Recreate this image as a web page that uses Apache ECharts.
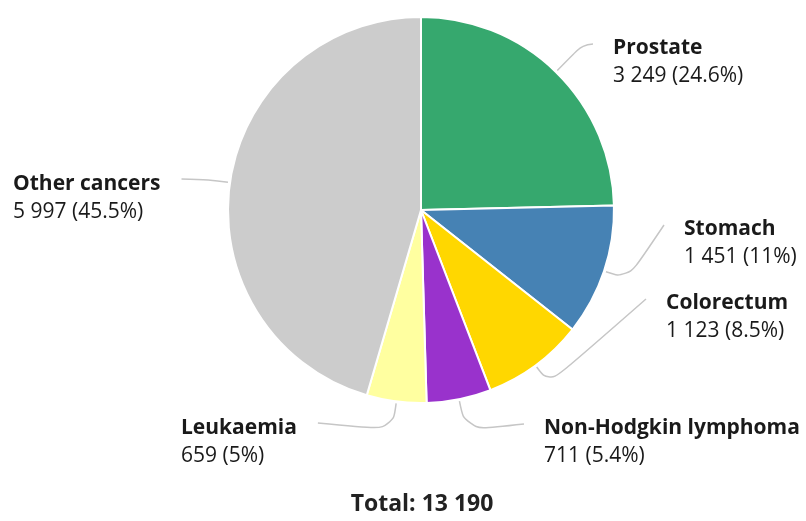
<!DOCTYPE html>
<html>
<head>
<meta charset="utf-8">
<script src="https://cdn.jsdelivr.net/npm/echarts@6/dist/echarts.min.js"></script>
<style>
html,body{margin:0;padding:0;background:#fff;}
#chart{width:806px;height:521px;}
</style>
</head>
<body>
<div id="chart"></div>
<script>
const categories = ['Prostate', 'Stomach', 'Colorectum', 'Non-Hodgkin lymphoma', 'Leukaemia', 'Other cancers'];
const values = [3249, 1451, 1123, 711, 659, 5997];
const valueLabels = ['3 249', '1 451', '1 123', '711', '659', '5 997'];
const percentLabels = ['24.6%', '11%', '8.5%', '5.4%', '5%', '45.5%'];
const totalLabel = 'Total: 13 190';

const colors = ['#36a86e', '#4682b4', '#ffd700', '#9932cc', '#ffffa0', '#cccccc'];
const FONT = '"Open Sans", "Noto Sans", sans-serif';
const TEXT = '#1a1a1a';
const CENTER = [421, 210];

// label placement (style): left x of text block, centre y of the name line, side
const labelPlace = [
  { x: 613, y: 48, side: 'r', elbow: 36 },
  { x: 684, y: 229, side: 'r', elbow: 23 },
  { x: 666, y: 303, side: 'r', elbow: 21 },
  { x: 544, y: 428, side: 'r', elbow: 30 },
  { x: 181, y: 428, side: 'l', elbow: 27 },
  { x: 13, y: 184, side: 'l', elbow: 20 }
];

const chart = echarts.init(document.getElementById('chart'), null, { renderer: 'canvas' });

const option = {
  animation: false,
  series: [{
    type: 'pie',
    center: CENTER,
    radius: 193,
    startAngle: 90,
    clockwise: true,
    avoidLabelOverlap: false,
    silent: true,
    itemStyle: { borderColor: '#ffffff', borderWidth: 2 },
    data: categories.map((c, i) => ({ name: c, value: values[i], itemStyle: { color: colors[i] } })),
    label: {
      show: true,
      position: 'outside',
      formatter: p => '{n|' + p.name + '}\n{v|' + valueLabels[p.dataIndex] + ' (' + percentLabels[p.dataIndex] + ')}',
      rich: {
        n: { fontFamily: FONT, fontSize: 21, fontWeight: 'bold', lineHeight: 28, color: TEXT, align: 'left' },
        v: { fontFamily: FONT, fontSize: 21, fontWeight: 'normal', lineHeight: 28, color: TEXT, align: 'left' }
      }
    },
    labelLine: {
      show: true,
      length: 20,
      length2: 20,
      smooth: 0.45,
      lineStyle: { color: '#c6c6c6', width: 1.5 }
    },
    labelLayout: function (p) {
      const i = p.dataIndex;
      const lp = labelPlace[i];
      const s0 = p.labelLinePoints[0];
      const dx = s0[0] - CENTER[0], dy = s0[1] - CENTER[1];
      const len = Math.sqrt(dx * dx + dy * dy) || 1;
      const ux = dx / len, uy = dy / len;
      const start = [s0[0] + ux * 2, s0[1] + uy * 2];
      const elbow = [start[0] + ux * lp.elbow, start[1] + uy * lp.elbow];
      const w = p.labelRect.width;
      const end = lp.side === 'r' ? [lp.x - 20, lp.y - 4] : [lp.x + w + 21, lp.y - 5];
      return {
        x: lp.x,
        y: lp.y - 14,
        align: 'left',
        verticalAlign: 'top',
        labelLinePoints: [start, elbow, end]
      };
    }
  }],
  graphic: [{
    type: 'text',
    x: 422,
    y: 504,
    style: {
      text: totalLabel,
      fontFamily: FONT,
      fontSize: 23,
      fontWeight: 'bold',
      fill: '#222222',
      textAlign: 'center',
      textVerticalAlign: 'middle'
    }
  }]
};
chart.setOption(option);
</script>
</body>
</html>
